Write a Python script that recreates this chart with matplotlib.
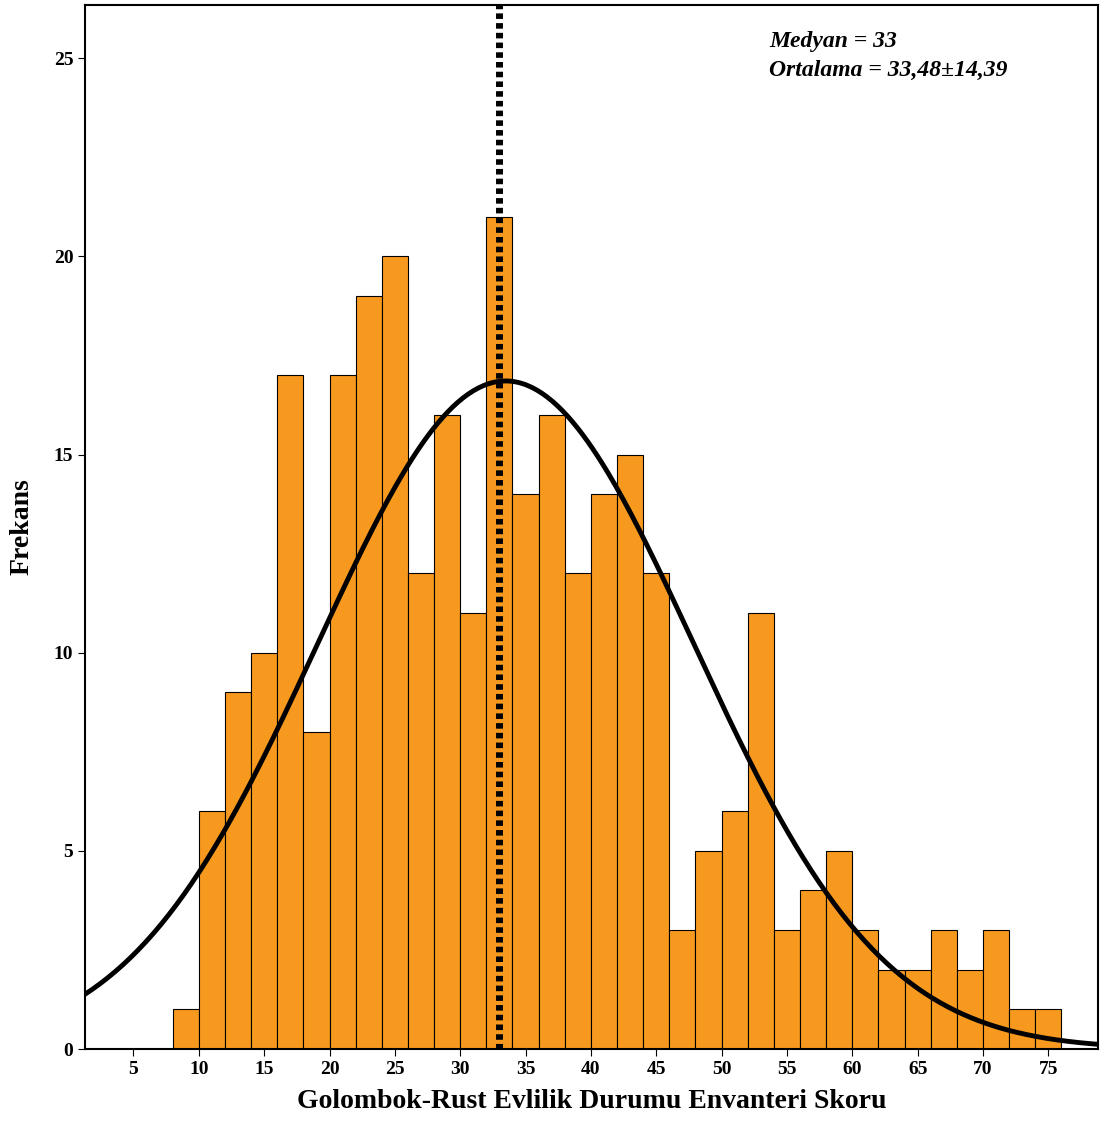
import matplotlib.pyplot as plt
import numpy as np

plt.rcParams['font.family'] = ['Liberation Serif', 'DejaVu Serif']

# bin edges 8..76, width 2
bin_edges = list(range(8, 78, 2))
counts = [1, 6, 9, 10, 17, 8, 17, 19, 20, 12, 16, 11, 21, 14, 16, 12, 14,
          15, 12, 3, 5, 6, 11, 3, 4, 5, 3, 2, 2, 3, 2, 3, 1, 1]
median = 33
mean = 33.48
sd = 14.39
x_ticks = list(range(5, 80, 5))
y_ticks = [0, 5, 10, 15, 20, 25]

fig = plt.figure(figsize=(11.05, 11.31), dpi=100)
ax = fig.add_axes([0.077, 0.0725, 0.9167, 0.923])

ax.bar(bin_edges[:-1], counts, width=2, align='edge', color='#F7991F',
       edgecolor='black', linewidth=0.8)

n = sum(counts)
xs = np.linspace(1.3, 78.8, 400)
pdf = n * 2 / (sd * np.sqrt(2 * np.pi)) * np.exp(-0.5 * ((xs - mean) / sd) ** 2)
ax.plot(xs, pdf, color='black', linewidth=3.5)

ax.axvline(median, color='black', linestyle=(0, (0.8, 0.6)), linewidth=5)

ax.set_xlim(1.3, 78.8)
ax.set_ylim(0, 26.34)
ax.set_xticks(x_ticks)
ax.set_yticks(y_ticks)
ax.tick_params(labelsize=14, direction='out', length=5)
for lbl in ax.get_xticklabels() + ax.get_yticklabels():
    lbl.set_fontweight('bold')
for s in ax.spines.values():
    s.set_linewidth(1.5)

ax.set_xlabel('Golombok-Rust Evlilik Durumu Envanteri Skoru', fontsize=20,
              fontweight='bold', labelpad=8)
ax.set_ylabel('Frekans', fontsize=20, fontweight='bold', labelpad=14)

ax.text(0.675, 0.975, 'Medyan = 33\nOrtalama = 33,48\u00b114,39', transform=ax.transAxes,
        fontsize=17, fontweight='bold', fontstyle='italic', va='top', ha='left',
        linespacing=1.5)

fig.savefig('out.png', dpi=100)
